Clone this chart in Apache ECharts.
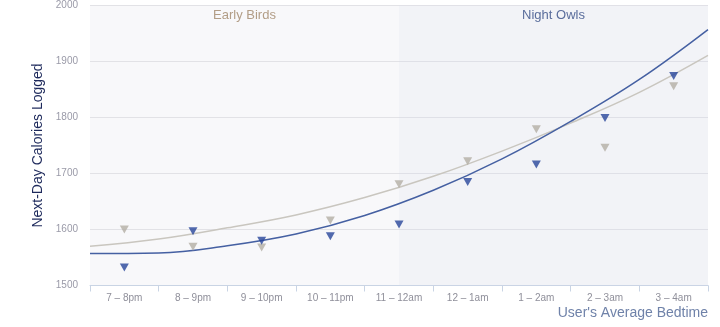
<!DOCTYPE html>
<html>
<head>
<meta charset="utf-8">
<script src="https://cdn.jsdelivr.net/npm/echarts@6/dist/echarts.min.js"></script>
<style>
  html, body { margin: 0; padding: 0; background: #ffffff; }
  #chart { width: 720px; height: 327px; }
</style>
</head>
<body>
<div id="chart"></div>
<script>
// Bedtime buckets on the category axis
const categories = ['7 – 8pm', '8 – 9pm', '9 – 10pm', '10 – 11pm', '11 – 12am',
                    '12 – 1am', '1 – 2am', '2 – 3am', '3 – 4am'];

// Average next-day calories per bucket
const blueValues = [1532, 1597, 1580, 1588, 1609, 1685, 1716, 1799, 1874];
const grayValues = [1600, 1569, 1568, 1616, 1681, 1722, 1779, 1746, 1856];

// Trend curves, sampled at the bucket boundaries (-0.5 .. 8.5 spans the plot)
const trendX     = [-0.5, 0.5, 1.5, 2.5, 3.5, 4.5, 5.5, 6.5, 7.5, 8.5];
const blueTrend  = [1557, 1558, 1571, 1592, 1625, 1670, 1726, 1793, 1868, 1957];
const grayTrend  = [1570, 1583, 1603, 1626, 1657, 1695, 1740, 1790, 1845, 1911];

// Value axis ticks
const yMin = 1500, yMax = 2000, yStep = 100;

// Shaded bands along the bucket index
const bandSplit = 4;
const bandNames = ['Early Birds', 'Night Owls'];

const FONT = '"Liberation Sans", Arial, sans-serif';

const chart = echarts.init(document.getElementById('chart'), null, { renderer: 'canvas' });

const pairs = (xs, ys) => xs.map((x, i) => [x, ys[i]]);

chart.setOption({
  animation: false,
  backgroundColor: '#ffffff',
  grid: {
    left: 90, right: 12, top: 5.5, bottom: 41.5,
    show: true, borderWidth: 0, backgroundColor: '#f8f8fa'
  },
  xAxis: [
    {
      type: 'category',
      data: categories,
      boundaryGap: true,
      axisLine: { lineStyle: { color: '#c9d4e4', width: 1 } },
      axisTick: { show: true, length: 6, lineStyle: { color: '#c9d4e4' } },
      axisLabel: { color: '#8f8f9a', fontFamily: FONT, fontSize: 10, margin: 8 },
      splitLine: { show: false },
      name: "User's Average Bedtime",
      nameLocation: 'end',
      nameGap: 0,
      nameTextStyle: {
        color: '#6f82a9', fontFamily: FONT, fontSize: 14,
        align: 'right', verticalAlign: 'top', padding: [21, 0, 0, 0]
      }
    },
    {
      type: 'value',
      min: -0.5, max: 8.5,
      show: false
    }
  ],
  yAxis: {
    type: 'value',
    min: yMin, max: yMax, interval: yStep,
    axisLine: { show: false },
    axisTick: { show: false },
    axisLabel: {
      color: '#9a9aa8', fontFamily: FONT, fontSize: 10, margin: 12,
      formatter: (v) => String(v)
    },
    splitLine: { lineStyle: { color: '#e2e2e6', width: 1 } },
    name: 'Next-Day Calories Logged',
    nameLocation: 'middle',
    nameRotate: 90,
    nameGap: 43,
    nameTextStyle: { color: '#1e2a5c', fontFamily: FONT, fontSize: 14 }
  },
  series: [
    {
      name: 'gray trend',
      type: 'line',
      xAxisIndex: 1,
      data: pairs(trendX, grayTrend),
      smooth: 0.4,
      symbol: 'none',
      lineStyle: { color: '#c9c6bf', width: 1.5 },
      z: 2,
      markArea: {
        silent: true,
        data: [
          [
            { xAxis: -0.5, name: bandNames[0],
              itemStyle: { color: 'rgba(0,0,0,0)' },
              label: { color: '#b29d86' } },
            { xAxis: bandSplit }
          ],
          [
            { xAxis: bandSplit, name: bandNames[1],
              itemStyle: { color: 'rgba(214,220,235,0.16)' },
              label: { color: '#5a6d9c' } },
            { xAxis: 8.5 }
          ]
        ],
        label: {
          show: true, position: 'insideTop', distance: 3,
          fontFamily: FONT, fontSize: 13
        }
      }
    },
    {
      name: 'blue trend',
      type: 'line',
      xAxisIndex: 1,
      data: pairs(trendX, blueTrend),
      smooth: 0.4,
      symbol: 'none',
      lineStyle: { color: '#4560a2', width: 1.5 },
      z: 3
    },
    {
      name: 'gray group',
      type: 'scatter',
      xAxisIndex: 0,
      data: grayValues,
      symbol: 'triangle',
      symbolRotate: 180,
      symbolSize: [9, 8],
      itemStyle: { color: '#b3aea4' },
      z: 4
    },
    {
      name: 'blue group',
      type: 'scatter',
      xAxisIndex: 0,
      data: blueValues,
      symbol: 'triangle',
      symbolRotate: 180,
      symbolSize: [9, 8],
      itemStyle: { color: '#27459a' },
      z: 5
    }
  ]
});
</script>
</body>
</html>
